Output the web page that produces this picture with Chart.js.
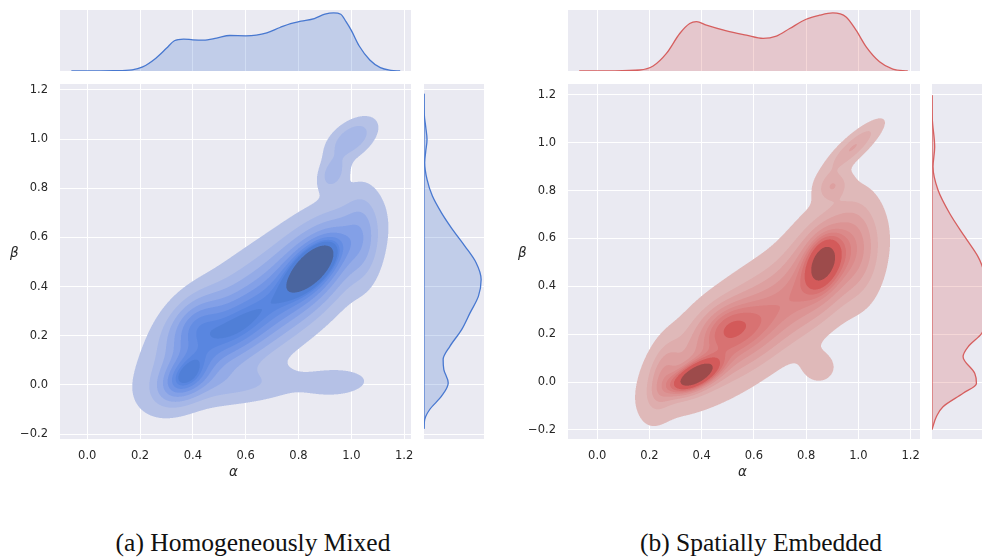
<!DOCTYPE html>
<html>
<head>
<meta charset="utf-8">
<script src="https://cdn.jsdelivr.net/npm/chart.js@4.4.1/dist/chart.umd.min.js"></script>
<style>
  body { margin: 0; width: 982px; height: 559px; overflow: hidden; background: #fff; position: relative; }
  canvas { position: absolute; }
  .lbl { position: absolute; font-family: "DejaVu Sans"; font-style: italic; font-size: 13.5px; color: #262626; line-height: 1; }
  .cap { position: absolute; top: 530px; font-family: "Liberation Serif"; font-size: 25.5px; line-height: 1; color: #111; white-space: nowrap; transform: translateX(-50%); }
</style>
</head>
<body>
<canvas id="topA"  width="420" height="61"  style="left:0;top:10px"></canvas>
<canvas id="mainA" width="420" height="400" style="left:0;top:84px"></canvas>
<canvas id="sideA" width="60"  height="355" style="left:424px;top:84px"></canvas>
<canvas id="topB"  width="430" height="61"  style="left:500px;top:10px"></canvas>
<canvas id="mainB" width="430" height="400" style="left:500px;top:84px"></canvas>
<canvas id="sideB" width="60"  height="355" style="left:932px;top:84px"></canvas>

<span class="lbl" style="left:229px;top:465px">α</span>
<span class="lbl" style="left:10px;top:246px">β</span>
<span class="lbl" style="left:738px;top:465px">α</span>
<span class="lbl" style="left:518px;top:246px">β</span>

<div class="cap" style="left:253px">(a) Homogeneously Mixed</div>
<div class="cap" style="left:761px">(b) Spatially Embedded</div>

<script>
// tick positions shared by both panels
const alphaTicks = [0.0, 0.2, 0.4, 0.6, 0.8, 1.0, 1.2];
const betaTicks  = [-0.2, 0.0, 0.2, 0.4, 0.6, 0.8, 1.0, 1.2];

// (a) homogeneously mixed: gaussian pieces of the joint density
const mixW   = [0.30, 0.16, 0.04, 0.05, 0.04, 0.10, 0.010, 0.018, 0.008, 0.025, 0.025];
const mixA   = [0.62, 0.86, 0.86, 0.37, 0.40, 0.55, 0.94, 1.00, 0.93, 0.60, 1.04];
const mixB   = [0.30, 0.48, 0.49, 0.03, 0.25, 0.22, 0.01, 1.00, 0.86, 0.00, 0.60];
const mixSA  = [0.22, 0.11, 0.06, 0.065, 0.07, 0.13, 0.08, 0.06, 0.035, 0.15, 0.045];
const mixSB  = [0.20, 0.13, 0.065, 0.065, 0.08, 0.11, 0.035, 0.055, 0.045, 0.05, 0.12];
const mixRho = [0.72, 0.55, 0.6, 0.4, 0.4, 0.6, 0.1, 0.5, 0.3, 0.2, 0.0];

// (b) spatially embedded
const embW   = [0.28, 0.13, 0.04, 0.06, 0.025, 0.02, 0.016, 0.04, 0.006, 0.06, 0.008];
const embA   = [0.60, 0.87, 0.865, 0.375, 0.49, 0.25, 0.98, 1.00, 0.85, 0.55, 0.90];
const embB   = [0.25, 0.50, 0.50, 0.025, 0.24, 0.02, 0.98, 0.55, 0.06, 0.20, 0.82];
const embSA  = [0.22, 0.09, 0.04, 0.06, 0.07, 0.04, 0.07, 0.06, 0.05, 0.13, 0.04];
const embSB  = [0.20, 0.14, 0.065, 0.045, 0.065, 0.09, 0.07, 0.14, 0.05, 0.11, 0.04];
const embRho = [0.75, 0.4, 0.3, 0.6, 0.3, 0.4, 0.85, 0.0, 0.0, 0.6, 0.3];

// marginal curves (relative density)
const mixTopA = [-0.06, 0.0, 0.1, 0.17, 0.21, 0.26, 0.30, 0.33, 0.365, 0.40, 0.44, 0.49, 0.54, 0.60, 0.64, 0.68, 0.73, 0.77, 0.81, 0.86, 0.90, 0.933, 0.96, 0.98, 1.00, 1.03, 1.07, 1.11, 1.15, 1.185];
const mixTopH = [0, 0.002, 0.006, 0.02, 0.07, 0.22, 0.39, 0.52, 0.55, 0.537, 0.531, 0.566, 0.611, 0.606, 0.617, 0.657, 0.749, 0.817, 0.857, 0.903, 0.977, 1.0, 0.977, 0.85, 0.70, 0.43, 0.19, 0.057, 0.011, 0];
const mixSideB = [-0.178, -0.141, -0.10, -0.046, 0.008, 0.062, 0.103, 0.157, 0.225, 0.293, 0.361, 0.429, 0.497, 0.564, 0.632, 0.70, 0.768, 0.836, 0.904, 0.95, 0.998, 1.05, 1.10, 1.184];
const mixSideW = [0, 0.012, 0.10, 0.306, 0.424, 0.347, 0.335, 0.453, 0.659, 0.806, 0.953, 1.0, 0.912, 0.718, 0.50, 0.306, 0.147, 0.053, 0.012, 0.03, 0.053, 0.03, 0.005, 0];

const embTopA = [-0.069, 0.05, 0.163, 0.214, 0.265, 0.316, 0.354, 0.38, 0.418, 0.495, 0.571, 0.635, 0.686, 0.737, 0.80, 0.851, 0.902, 0.953, 0.991, 1.03, 1.081, 1.132, 1.189];
const embTopH = [0, 0.003, 0.017, 0.086, 0.303, 0.646, 0.817, 0.851, 0.789, 0.691, 0.617, 0.56, 0.60, 0.731, 0.891, 0.96, 1.0, 0.931, 0.703, 0.417, 0.16, 0.034, 0];
const embSideB = [-0.198, -0.145, -0.103, -0.047, -0.006, 0.036, 0.106, 0.147, 0.203, 0.25, 0.32, 0.40, 0.489, 0.523, 0.607, 0.704, 0.802, 0.899, 0.982, 1.10, 1.198];
const embSideW = [0, 0.076, 0.193, 0.544, 0.778, 0.749, 0.544, 0.632, 0.871, 0.95, 1.0, 0.98, 0.871, 0.807, 0.573, 0.31, 0.105, 0.018, 0.047, 0.005, 0];

const BG = '#eaeaf2';
const TICK_FONT = { family: 'DejaVu Sans', size: 11.5 };

// ---- husl (seaborn-style colormap) ----
const M  = [[3.240969941904521, -1.537383177570093, -0.498610760293],
            [-0.96924363628087, 1.87596750150772, 0.041555057407175],
            [0.055630079696993, -0.20397695888897, 1.056971514242878]];
const MI = [[0.41239079926595, 0.35758433938387, 0.18048078840183],
            [0.21263900587151, 0.71516867876775, 0.072192315360733],
            [0.019330818715591, 0.11919477979462, 0.95053215224966]];
const REF_U = 0.19783000664283, REF_V = 0.46831999493879;
const KAPPA = 903.2962962, EPS = 0.0088564516;

function bounds(L) {
  const out = [];
  const s1 = Math.pow(L + 16, 3) / 1560896;
  const s2 = s1 > EPS ? s1 : L / KAPPA;
  for (const [m1, m2, m3] of M) {
    for (const t of [0, 1]) {
      const top1 = (284517 * m1 - 94839 * m3) * s2;
      const top2 = (838422 * m3 + 769860 * m2 + 731718 * m1) * L * s2 - 769860 * t * L;
      const bot = (632260 * m3 - 126452 * m2) * s2 + 126452 * t;
      out.push([top1 / bot, top2 / bot]);
    }
  }
  return out;
}
function maxChroma(L, H) {
  const h = H / 180 * Math.PI;
  let m = Infinity;
  for (const [sl, ic] of bounds(L)) {
    const len = ic / (Math.sin(h) - sl * Math.cos(h));
    if (len >= 0) m = Math.min(m, len);
  }
  return m;
}
function huslToRgb(H, S, L) {
  if (L > 99.9999999) return [255, 255, 255];
  if (L < 1e-8) return [0, 0, 0];
  const C = maxChroma(L, H) / 100 * S;
  const h = H / 180 * Math.PI;
  const U = Math.cos(h) * C, V = Math.sin(h) * C;
  const Y = L <= 8 ? L / KAPPA : Math.pow((L + 16) / 116, 3);
  const vu = U / (13 * L) + REF_U, vv = V / (13 * L) + REF_V;
  const X = -(9 * Y * vu) / ((vu - 4) * vv - vu * vv);
  const Z = (9 * Y - 15 * vv * Y - vv * X) / (3 * vv);
  return M.map(r => {
    const c = r[0] * X + r[1] * Y + r[2] * Z;
    const v = c <= 0.0031308 ? 12.92 * c : 1.055 * Math.pow(c, 1 / 2.4) - 0.055;
    return Math.round(255 * Math.min(1, Math.max(0, v)));
  });
}
function rgbToHusl(hex) {
  const rgb = [1, 3, 5].map(i => parseInt(hex.slice(i, i + 2), 16) / 255);
  const lin = rgb.map(c => c > 0.04045 ? Math.pow((c + 0.055) / 1.055, 2.4) : c / 12.92);
  const [X, Y, Z] = MI.map(r => r[0] * lin[0] + r[1] * lin[1] + r[2] * lin[2]);
  const L = Y <= EPS ? Y * KAPPA : 116 * Math.cbrt(Y) - 16;
  const d = X + 15 * Y + 3 * Z;
  const U = 13 * L * (4 * X / d - REF_U), V = 13 * L * (9 * Y / d - REF_V);
  let H = Math.atan2(V, U) * 180 / Math.PI;
  if (H < 0) H += 360;
  return [H, Math.hypot(U, V) / maxChroma(L, H) * 100, L];
}
// light -> color -> dark ramp, t in [0,1]
function rampColor(hex, t) {
  const [h, s] = rgbToHusl(hex);
  const idx = Math.min(255, Math.floor(t * 256));
  const j = 255 - idx;
  const xx = -1 + 2 * j / 293;
  return huslToRgb(h, s * Math.cos(xx), 35 + 45 * j / 255);
}

// ---- density ----
function density(p, a, b) {
  let d = 0;
  for (let k = 0; k < p.w.length; k++) {
    const za = (a - p.ma[k]) / p.sa[k], zb = (b - p.mb[k]) / p.sb[k], r = p.rho[k];
    const q = (za * za - 2 * r * za * zb + zb * zb) / (1 - r * r);
    d += p.w[k] * Math.exp(-0.5 * q) / (p.sa[k] * p.sb[k] * Math.sqrt(1 - r * r));
  }
  return d;
}
// iso-proportion levels, 10 levels from 5% upward
function isoLevels(p) {
  const n = 200, vals = new Float64Array(n * n);
  for (let i = 0; i < n; i++) for (let j = 0; j < n; j++) {
    const a = p.aRange[0] + (p.aRange[1] - p.aRange[0]) * i / (n - 1);
    const b = p.bRange[0] + (p.bRange[1] - p.bRange[0]) * j / (n - 1);
    vals[i * n + j] = density(p, a, b);
  }
  const sorted = Array.from(vals).sort((u, v) => v - u);
  const total = sorted.reduce((s, v) => s + v, 0);
  const cum = [];
  let acc = 0;
  for (const v of sorted) { acc += v; cum.push(acc / total); }
  const levels = [];
  for (let i = 0; i < 10; i++) {
    const target = 1 - (0.05 + 0.95 * i / 9);
    let idx = cum.findIndex(c => c >= target - 1e-12);
    if (idx < 0) idx = sorted.length - 1;
    levels.push(sorted[idx]);
  }
  return levels;
}

function renderKde(chart, p) {
  const ca = chart.chartArea, xs = chart.scales.x, ys = chart.scales.y;
  const W = Math.round(ca.right - ca.left), H = Math.round(ca.bottom - ca.top);
  const levels = isoLevels(p);
  const lo = levels[0], hi = levels[9];
  const bandCols = [];
  for (let i = 0; i < 9; i++) bandCols.push(rampColor(p.color, ((levels[i] + levels[i + 1]) / 2 - lo) / (hi - lo)));
  const off = document.createElement('canvas');
  off.width = W; off.height = H;
  const octx = off.getContext('2d');
  const img = octx.createImageData(W, H);
  const SS = 3;
  for (let py = 0; py < H; py++) {
    for (let px = 0; px < W; px++) {
      let r = 0, g = 0, b = 0, n = 0;
      for (let sy = 0; sy < SS; sy++) for (let sx = 0; sx < SS; sx++) {
        const av = xs.getValueForPixel(ca.left + px + (sx + 0.5) / SS);
        const bv = ys.getValueForPixel(ca.top + py + (sy + 0.5) / SS);
        const d = density(p, av, bv);
        if (d < lo) continue;
        let band = 0;
        while (band < 8 && d >= levels[band + 1]) band++;
        const c = bandCols[band];
        r += c[0]; g += c[1]; b += c[2]; n++;
      }
      if (!n) continue;
      const o = 4 * (py * W + px);
      img.data[o] = r / n; img.data[o + 1] = g / n; img.data[o + 2] = b / n;
      img.data[o + 3] = 255 * n / (SS * SS);
    }
  }
  octx.putImageData(img, 0, 0);
  return off;
}

const panelBg = {
  id: 'panelBg',
  beforeDraw(chart) {
    const { ctx, chartArea: ca } = chart;
    ctx.save();
    ctx.fillStyle = BG;
    ctx.fillRect(ca.left, ca.top, ca.right - ca.left, ca.bottom - ca.top);
    ctx.restore();
  }
};
function kdeLayer(p) {
  return {
    id: 'kdeLayer',
    beforeDatasetsDraw(chart) {
      if (!chart.$kde) chart.$kde = renderKde(chart, p);
      chart.ctx.drawImage(chart.$kde, Math.round(chart.chartArea.left), Math.round(chart.chartArea.top));
    }
  };
}

const fmt = v => (Math.abs(v) < 1e-9 ? 0 : v).toFixed(1).replace('-', '\u2212');

function axis(range, ticks, size, showLabels, pad) {
  return {
    type: 'linear', min: range[0], max: range[1],
    afterBuildTicks: s => { s.ticks = ticks.map(v => ({ value: v })); },
    afterFit: s => {
      if (s.isHorizontal()) { s.height = size; s.paddingLeft = 0; s.paddingRight = 0; }
      else { s.width = size; s.paddingTop = 0; s.paddingBottom = 0; }
    },
    grid: { color: '#fff', lineWidth: 1, drawTicks: false },
    border: { display: false },
    ticks: { display: showLabels, padding: pad, color: '#262626', font: TICK_FONT, autoSkip: false, maxRotation: 0, callback: fmt }
  };
}

function mainChart(id, p) {
  return new Chart(document.getElementById(id), {
    type: 'scatter',
    data: { datasets: [] },
    options: {
      responsive: false, animation: false, events: [],
      layout: { padding: { right: p.padRight } },
      plugins: { legend: { display: false }, tooltip: { enabled: false } },
      scales: {
        x: axis(p.aRange, alphaTicks, 45, true, 10),
        y: axis(p.bRange, betaTicks, p.axisW, true, 12)
      }
    },
    plugins: [panelBg, kdeLayer(p)]
  });
}

function topChart(id, p, xs, hs) {
  return new Chart(document.getElementById(id), {
    type: 'line',
    data: { datasets: [{
      data: xs.map((a, i) => ({ x: a, y: hs[i] })),
      borderColor: p.color, borderWidth: 1.3, backgroundColor: p.fill,
      fill: 'origin', pointRadius: 0, cubicInterpolationMode: 'monotone'
    }] },
    options: {
      responsive: false, animation: false, events: [],
      layout: { padding: { left: p.axisW, right: p.padRight } },
      plugins: { legend: { display: false }, tooltip: { enabled: false } },
      scales: {
        x: axis(p.aRange, alphaTicks, 0, false, 0),
        y: { display: false, min: 0, max: 1.05 }
      }
    },
    plugins: [panelBg]
  });
}

function sideChart(id, p, bs, ws) {
  return new Chart(document.getElementById(id), {
    type: 'line',
    data: { datasets: [
      { data: bs.map((b, i) => ({ x: ws[i], y: b })),
        borderColor: p.color, borderWidth: 1.3, backgroundColor: p.fill,
        fill: 'origin', pointRadius: 0, cubicInterpolationMode: 'monotone' },
      { data: [{ x: 0, y: bs[0] }, { x: 0, y: bs[bs.length - 1] }],
        borderColor: p.color, borderWidth: 1.2, pointRadius: 0, fill: false }
    ] },
    options: {
      indexAxis: 'y',
      responsive: false, animation: false, events: [],
      plugins: { legend: { display: false }, tooltip: { enabled: false } },
      scales: {
        x: { type: 'linear', display: false, min: 0, max: 1.05 },
        y: axis(p.bRange, betaTicks, 0, false, 0)
      }
    },
    plugins: [panelBg]
  });
}

const panelA = {
  w: mixW, ma: mixA, mb: mixB, sa: mixSA, sb: mixSB, rho: mixRho,
  aRange: [-0.103, 1.226], bRange: [-0.220, 1.224],
  axisW: 60, padRight: 9,
  color: '#4878d0', fill: 'rgba(72,120,208,0.25)'
};
const panelB = {
  w: embW, ma: embA, mb: embB, sa: embSA, sb: embSB, rho: embRho,
  aRange: [-0.112, 1.236], bRange: [-0.238, 1.245],
  axisW: 68, padRight: 10,
  color: '#d65f5f', fill: 'rgba(214,95,95,0.25)'
};

mainChart('mainA', panelA);
topChart('topA', panelA, mixTopA, mixTopH);
sideChart('sideA', panelA, mixSideB, mixSideW);
mainChart('mainB', panelB);
topChart('topB', panelB, embTopA, embTopH);
sideChart('sideB', panelB, embSideB, embSideW);
</script>
</body>
</html>
